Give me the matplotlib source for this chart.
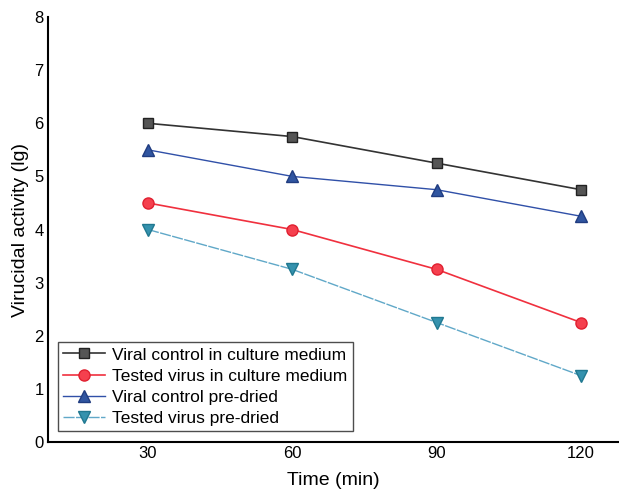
import numpy as np
import matplotlib
matplotlib.use("Agg")
import matplotlib.pyplot as plt

plt.rcParams['font.family'] = ['Liberation Sans', 'DejaVu Sans']

# data
time = [30, 60, 90, 120]
control_medium = [6.0, 5.75, 5.25, 4.75]
tested_medium = [4.5, 4.0, 3.25, 2.25]
control_dried = [5.5, 5.0, 4.75, 4.25]
tested_dried = [4.0, 3.25, 2.25, 1.25]
labels = ["Viral control in culture medium",
          "Tested virus in culture medium",
          "Viral control pre-dried",
          "Tested virus pre-dried"]

fig = plt.figure(figsize=(6.19, 4.93), dpi=100)
ax = fig.add_axes([0.0775, 0.1034, 0.9225, 0.862])

ax.plot(time, control_medium, color='#333333', lw=1.2, marker='s', ms=6.5,
        mfc='#555555', mec='#222222', label=labels[0])
ax.plot(time, tested_medium, color='#f0303e', lw=1.2, marker='o', ms=8,
        mfc='#f5404e', mec='#e02030', label=labels[1])
ax.plot(time, control_dried, color='#3050a8', lw=1.0, marker='^', ms=8,
        mfc='#3055a0', mec='#203c80', label=labels[2])
ax.plot(time, tested_dried, color='#60a8c8', lw=1.0, ls=(0, (8, 1)), marker='v', ms=8,
        mfc='#3592ae', mec='#207890', label=labels[3])

ax.set_xlim(9.2, 127.9)
ax.set_ylim(0, 8)
ax.set_xticks(time)
ax.set_yticks(range(0, 9))
ax.tick_params(length=0, labelsize=12, pad=3)
for s in ['top', 'right']:
    ax.spines[s].set_visible(False)
for s in ['left', 'bottom']:
    ax.spines[s].set_linewidth(1.5)

ax.set_xlabel("Time (min)", fontsize=14, labelpad=8)
ax.set_ylabel("Virucidal activity (lg)", fontsize=14, labelpad=4)

leg = ax.legend(loc='lower left', bbox_to_anchor=(0.018, 0.025), fontsize=12.5,
                frameon=True, fancybox=False, edgecolor='#222222',
                handlelength=2.4, handletextpad=0.4, borderpad=0.3,
                labelspacing=0.35, borderaxespad=0)
leg.get_frame().set_linewidth(1.0)

fig.savefig("out.png", dpi=100)
